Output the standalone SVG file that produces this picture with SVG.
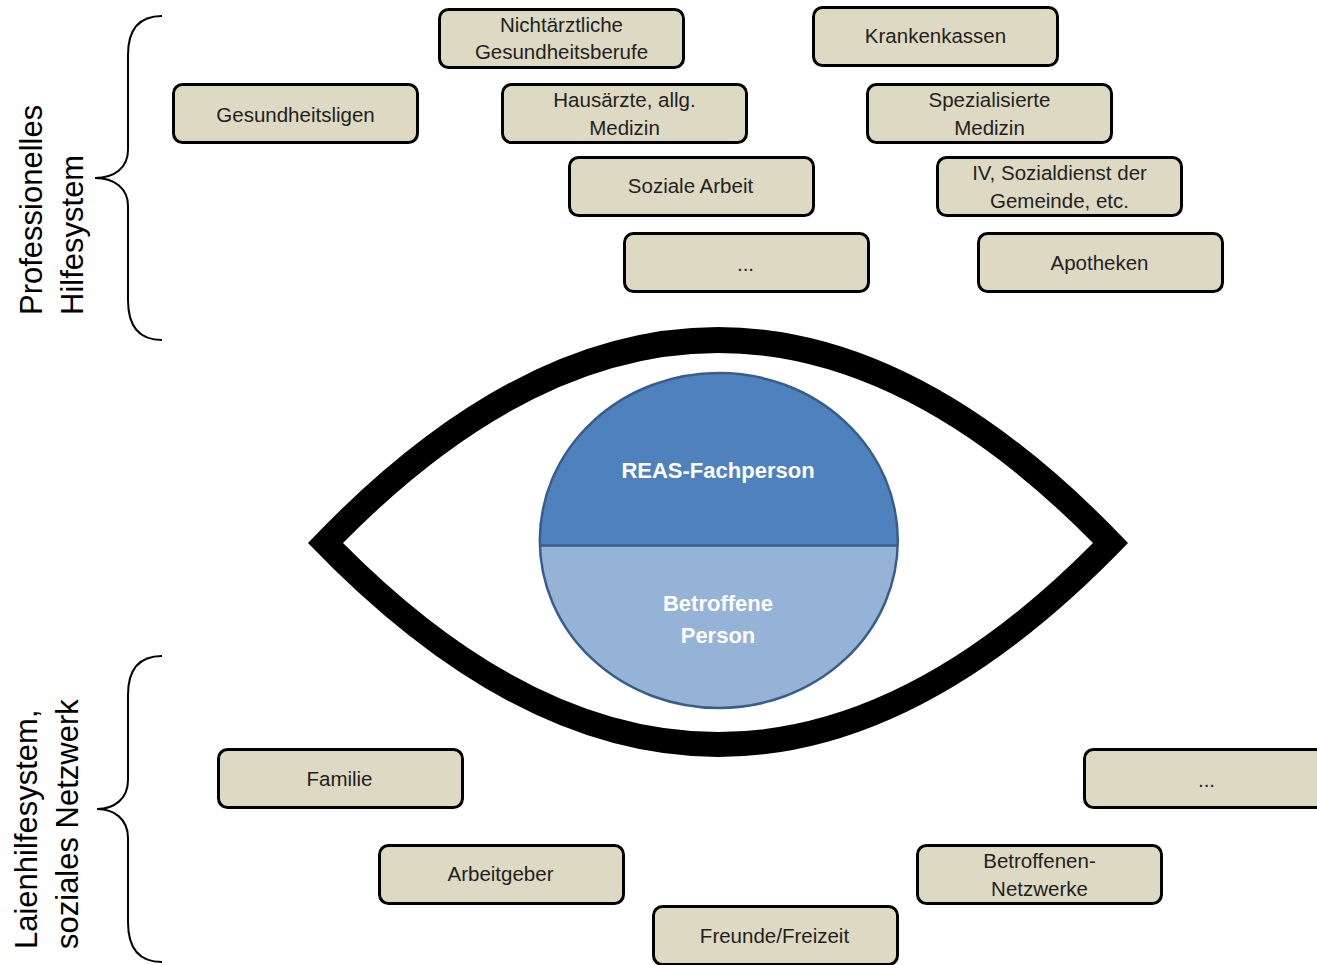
<svg xmlns="http://www.w3.org/2000/svg" width="1317" height="965" viewBox="0 0 1317 965">
  <style>
    .box rect { fill: #DDD9C3; stroke: #000; stroke-width: 3; }
    .box text { font-family: "Liberation Sans", Arial, sans-serif; font-size: 20.5px; fill: #1f1f1f; text-anchor: middle; }
    .brace { fill: none; stroke: #000; stroke-width: 2; }
    .side { font-family: "Liberation Sans", Arial, sans-serif; font-size: 31px; fill: #000; }
    .iris { font-family: "Liberation Sans", Arial, sans-serif; font-weight: bold; font-size: 22px; fill: #fff; text-anchor: middle; }
  </style>
  <defs>
    <clipPath id="upperHalf">
      <rect x="500" y="350" width="440" height="195.5"/>
    </clipPath>
  </defs>
  <rect width="1317" height="965" fill="#fff"/>

  <!-- curly braces and side labels -->
  <g id="brace-professional">
    <path class="brace" d="M162,16 C140,16 128,28 128,55 L128,150 C128,168 114,178 95,178 C114,178 128,188 128,206 L128,300 C128,327 140,340 162,340"/>
    <text class="side" transform="translate(42,315) rotate(-90)">Professionelles</text>
    <text class="side" transform="translate(83,315) rotate(-90)">Hilfesystem</text>
  </g>
  <g id="brace-lay">
    <path class="brace" d="M162,656 C140,656 128,668 128,695 L128,780 C128,799 114,809 97,809 C114,809 128,819 128,838 L128,922 C128,949 140,962 162,962"/>
    <text class="side" transform="translate(37,949) rotate(-90)">Laienhilfesystem,</text>
    <text class="side" transform="translate(78,949) rotate(-90)">soziales Netzwerk</text>
  </g>

  <!-- eye outline -->
  <g id="eye">
    <path fill="#000" fill-rule="evenodd" d="M308,543 Q718,111 1128,543 Q718,971 308,543 Z M343,543 Q718,163 1093,543 Q718,921 343,543 Z"/>
  </g>

  <!-- iris: split into two halves -->
  <g id="iris">
    <ellipse cx="718.8" cy="540.5" rx="179" ry="167.5" fill="#95B3D7"/>
    <ellipse cx="718.8" cy="540.5" rx="179" ry="167.5" fill="#4F81BD" clip-path="url(#upperHalf)"/>
    <line x1="540" y1="545.5" x2="898" y2="545.5" stroke="#385D8A" stroke-width="2.5"/>
    <ellipse cx="718.8" cy="540.5" rx="179" ry="167.5" fill="none" stroke="#385D8A" stroke-width="2.5"/>
    <text class="iris" x="718" y="478">REAS-Fachperson</text>
    <text class="iris" x="718" y="611">Betroffene</text>
    <text class="iris" x="718" y="643">Person</text>
  </g>

  <!-- professional help system -->
  <g id="n-nichtaerztliche" class="box">
    <rect x="439.5" y="9.5" width="244" height="58" rx="9"/>
    <text x="561.5" y="32">Nichtärztliche</text>
    <text x="561.5" y="59">Gesundheitsberufe</text>
  </g>
  <g id="n-krankenkassen" class="box">
    <rect x="813.5" y="7.5" width="244" height="58" rx="9"/>
    <text x="935.5" y="43">Krankenkassen</text>
  </g>
  <g id="n-gesundheitsligen" class="box">
    <rect x="173.5" y="84.5" width="244" height="58" rx="9"/>
    <text x="295.5" y="122">Gesundheitsligen</text>
  </g>
  <g id="n-hausaerzte" class="box">
    <rect x="502.5" y="84.5" width="244" height="58" rx="9"/>
    <text x="624.5" y="107">Hausärzte, allg.</text>
    <text x="624.5" y="135">Medizin</text>
  </g>
  <g id="n-spezialisierte" class="box">
    <rect x="867.5" y="84.5" width="244" height="58" rx="9"/>
    <text x="989.5" y="107">Spezialisierte</text>
    <text x="989.5" y="135">Medizin</text>
  </g>
  <g id="n-soziale-arbeit" class="box">
    <rect x="569.5" y="157.5" width="244" height="58" rx="9"/>
    <text x="690.5" y="193">Soziale Arbeit</text>
  </g>
  <g id="n-iv" class="box">
    <rect x="937.5" y="157.5" width="244" height="58" rx="9"/>
    <text x="1059.5" y="180">IV, Sozialdienst der</text>
    <text x="1059.5" y="208">Gemeinde, etc.</text>
  </g>
  <g id="n-weitere-prof" class="box">
    <rect x="624.5" y="233.5" width="244" height="58" rx="9"/>
    <text x="745.5" y="271">...</text>
  </g>
  <g id="n-apotheken" class="box">
    <rect x="978.5" y="233.5" width="244" height="58" rx="9"/>
    <text x="1099.5" y="270">Apotheken</text>
  </g>

  <!-- lay help system / social network -->
  <g id="n-familie" class="box">
    <rect x="218.5" y="749.5" width="244" height="58" rx="9"/>
    <text x="339.5" y="786">Familie</text>
  </g>
  <g id="n-weitere-laien" class="box">
    <rect x="1084.5" y="749.5" width="244" height="58" rx="9"/>
    <text x="1206.5" y="787">...</text>
  </g>
  <g id="n-arbeitgeber" class="box">
    <rect x="379.5" y="845.5" width="244" height="58" rx="9"/>
    <text x="500.5" y="881">Arbeitgeber</text>
  </g>
  <g id="n-betroffenen-netzwerke" class="box">
    <rect x="917.5" y="845.5" width="244" height="58" rx="9"/>
    <text x="1039.5" y="868">Betroffenen-</text>
    <text x="1039.5" y="896">Netzwerke</text>
  </g>
  <g id="n-freunde" class="box">
    <rect x="653.5" y="906.5" width="244" height="58" rx="9"/>
    <text x="774.5" y="943">Freunde/Freizeit</text>
  </g>

  <g id="connectors"/>
</svg>
